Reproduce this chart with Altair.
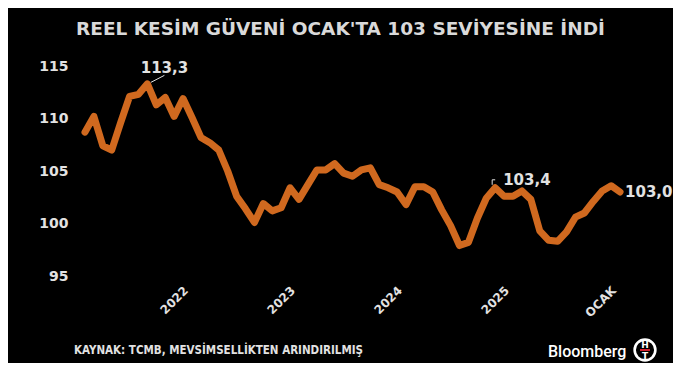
import altair as alt
import pandas as pd

# ---- data ----
months = [f"{y}-{m:02d}" for y in range(2021, 2026) for m in range(1, 13)] + ["2026-01"]
values = [108.7, 110.2, 107.4, 107.0, 109.6, 112.1, 112.3, 113.3, 111.3, 112.0, 110.2, 111.9,
          110.1, 108.2, 107.7, 107.0, 105.0, 102.6, 101.4, 100.1, 101.9, 101.2, 101.5, 103.4,
          102.3, 103.7, 105.1, 105.1, 105.7, 104.8, 104.5, 105.1, 105.3, 103.7, 103.4, 103.0,
          101.8, 103.5, 103.5, 103.0, 101.3, 99.8, 97.9, 98.2, 100.5, 102.4, 103.4, 102.6,
          102.6, 103.1, 102.3, 99.3, 98.4, 98.3, 99.2, 100.6, 101.0, 102.1, 103.1, 103.6,
          103.0]
tick_months = ["2022-01", "2023-01", "2024-01", "2025-01", "2026-01"]
tick_labels = ["2022", "2023", "2024", "2025", "OCAK"]
y_ticks = [95, 100, 105, 110, 115]
annot_months = ["2021-08", "2024-11", "2026-01"]

title_text = "REEL KESİM GÜVENİ OCAK'TA 103 SEVİYESİNE İNDİ"
source_text = "KAYNAK: TCMB, MEVSİMSELLİKTEN ARINDIRILMIŞ"
brand_text = "Bloomberg"

df = pd.DataFrame({
    "month": months,
    "value": values,
    "idx": list(range(len(months))),
})
df["label"] = df["value"].map(lambda v: f"{v:.1f}".replace(".", ","))

tick_idx = [months.index(m) for m in tick_months]
label_expr = " : ".join(f"datum.value == {i} ? '{t}'" for i, t in zip(tick_idx, tick_labels)) + " : ''"

FONT = "DejaVu Sans"
LIGHT = "#e2e2e2"
ORANGE = "#d0691f"

x_enc = alt.X("idx:Q",
              scale=alt.Scale(domain=[-1.12, 62.24], nice=False, zero=False),
              axis=alt.Axis(values=tick_idx, labelExpr=label_expr, labelAngle=315,
                            labelAlign="right", labelBaseline="top", labelPadding=-2,
                            labelOffset=-10,
                            labelFont=FONT, labelFontSize=12, labelFontWeight="bold",
                            labelColor=LIGHT, ticks=False, domain=False, grid=False,
                            title=None))
y_enc = alt.Y("value:Q",
              scale=alt.Scale(domain=[94, 116], nice=False, zero=False),
              axis=alt.Axis(values=y_ticks, labelPadding=7, labelFont=FONT,
                            labelFontSize=14, labelFontWeight="bold", labelColor=LIGHT,
                            ticks=False, domain=False, grid=False, title=None))

base = alt.Chart(df)

line = base.mark_line(color=ORANGE, strokeWidth=7, strokeCap="round",
                      strokeJoin="round").encode(x=x_enc, y=y_enc)

a0, a1, a2 = [months.index(m) for m in annot_months]

peak_lbl = base.transform_filter(alt.datum.idx == a0).mark_text(
    font=FONT, fontSize=15, fontWeight="bold", color=LIGHT, align="center",
    baseline="alphabetic", dx=17, dy=-11).encode(x="idx:Q", y="value:Q", text="label:N")
peak_lead = base.transform_filter(alt.datum.idx == a0).mark_rule(
    color=LIGHT, strokeWidth=1, xOffset=3.5, yOffset=-1.5, x2Offset=17, y2Offset=-8.5
).encode(x="idx:Q", y="value:Q", x2="idx:Q", y2="value:Q")

mid_lbl = base.transform_filter(alt.datum.idx == a1).mark_text(
    font=FONT, fontSize=15, fontWeight="bold", color=LIGHT, align="left",
    baseline="alphabetic", dx=8, dy=-3).encode(x="idx:Q", y="value:Q", text="label:N")
mid_lead_v = base.transform_filter(alt.datum.idx == a1).mark_rule(
    color=LIGHT, strokeWidth=1, xOffset=-3, x2Offset=-3, yOffset=-3, y2Offset=-8
).encode(x="idx:Q", y="value:Q", x2="idx:Q", y2="value:Q")
mid_lead_h = base.transform_filter(alt.datum.idx == a1).mark_rule(
    color=LIGHT, strokeWidth=1, xOffset=-3, x2Offset=0, yOffset=-8, y2Offset=-8
).encode(x="idx:Q", y="value:Q", x2="idx:Q", y2="value:Q")

last_lbl = base.transform_filter(alt.datum.idx == a2).mark_text(
    font=FONT, fontSize=15, fontWeight="bold", color=LIGHT, align="left",
    baseline="middle", dx=5).encode(x="idx:Q", y="value:Q", text="label:N")

# ---- footer: source, brand and logo (pixel positions relative to plot) ----
foot_df = pd.DataFrame({"t": [source_text]})
source = alt.Chart(foot_df).mark_text(
    font="DejaVu Sans Condensed", fontSize=11.5, fontWeight="bold", color=LIGHT,
    align="left", baseline="alphabetic").encode(
    x=alt.value(-1), y=alt.value(298.5), text="t:N")

brand = alt.Chart(pd.DataFrame({"t": [brand_text]})).mark_text(
    font="Roboto", fontSize=16, fontWeight=500, color="#ffffff",
    align="left", baseline="alphabetic").encode(
    x=alt.value(473), y=alt.value(301), text="t:N")

logo_df = pd.DataFrame({"t": ["H"], "b": ["T"]})
ring = alt.Chart(logo_df).mark_point(shape="circle", size=430, filled=False,
                                     stroke="#ffffff", strokeWidth=2.6, opacity=1).encode(
    x=alt.value(570), y=alt.value(294.5))
logo_h = alt.Chart(logo_df).mark_text(font=FONT, fontSize=9, fontWeight="bold",
                                      color="#ffffff", baseline="middle").encode(
    x=alt.value(570), y=alt.value(289), text="t:N")
logo_t = alt.Chart(logo_df).mark_text(font=FONT, fontSize=9, fontWeight="bold",
                                      color="#ffffff", baseline="middle").encode(
    x=alt.value(570), y=alt.value(300.5), text="b:N")
logo_bar = alt.Chart(logo_df).mark_rule(color="#d0202e", strokeWidth=2).encode(
    x=alt.value(565), x2=alt.value(575), y=alt.value(294.5))

chart = alt.layer(
    line, peak_lead, peak_lbl, mid_lead_v, mid_lead_h, mid_lbl, last_lbl,
    source, brand, ring, logo_h, logo_t, logo_bar
).properties(
    width=565, height=231,
    autosize=alt.AutoSizeParams(type="none"),
    padding={"left": 67, "top": 47.5, "right": 33, "bottom": 76},
    background="#000000",
    title=alt.TitleParams(title_text, font=FONT, fontSize=18.5, fontWeight="bold",
                          color="#d9d9d9", anchor="middle", frame="group", dx=-17,
                          baseline="alphabetic", offset=2),
).configure_view(stroke=None)

chart.save("out.html", embed_options={"renderer": "svg", "actions": False})
